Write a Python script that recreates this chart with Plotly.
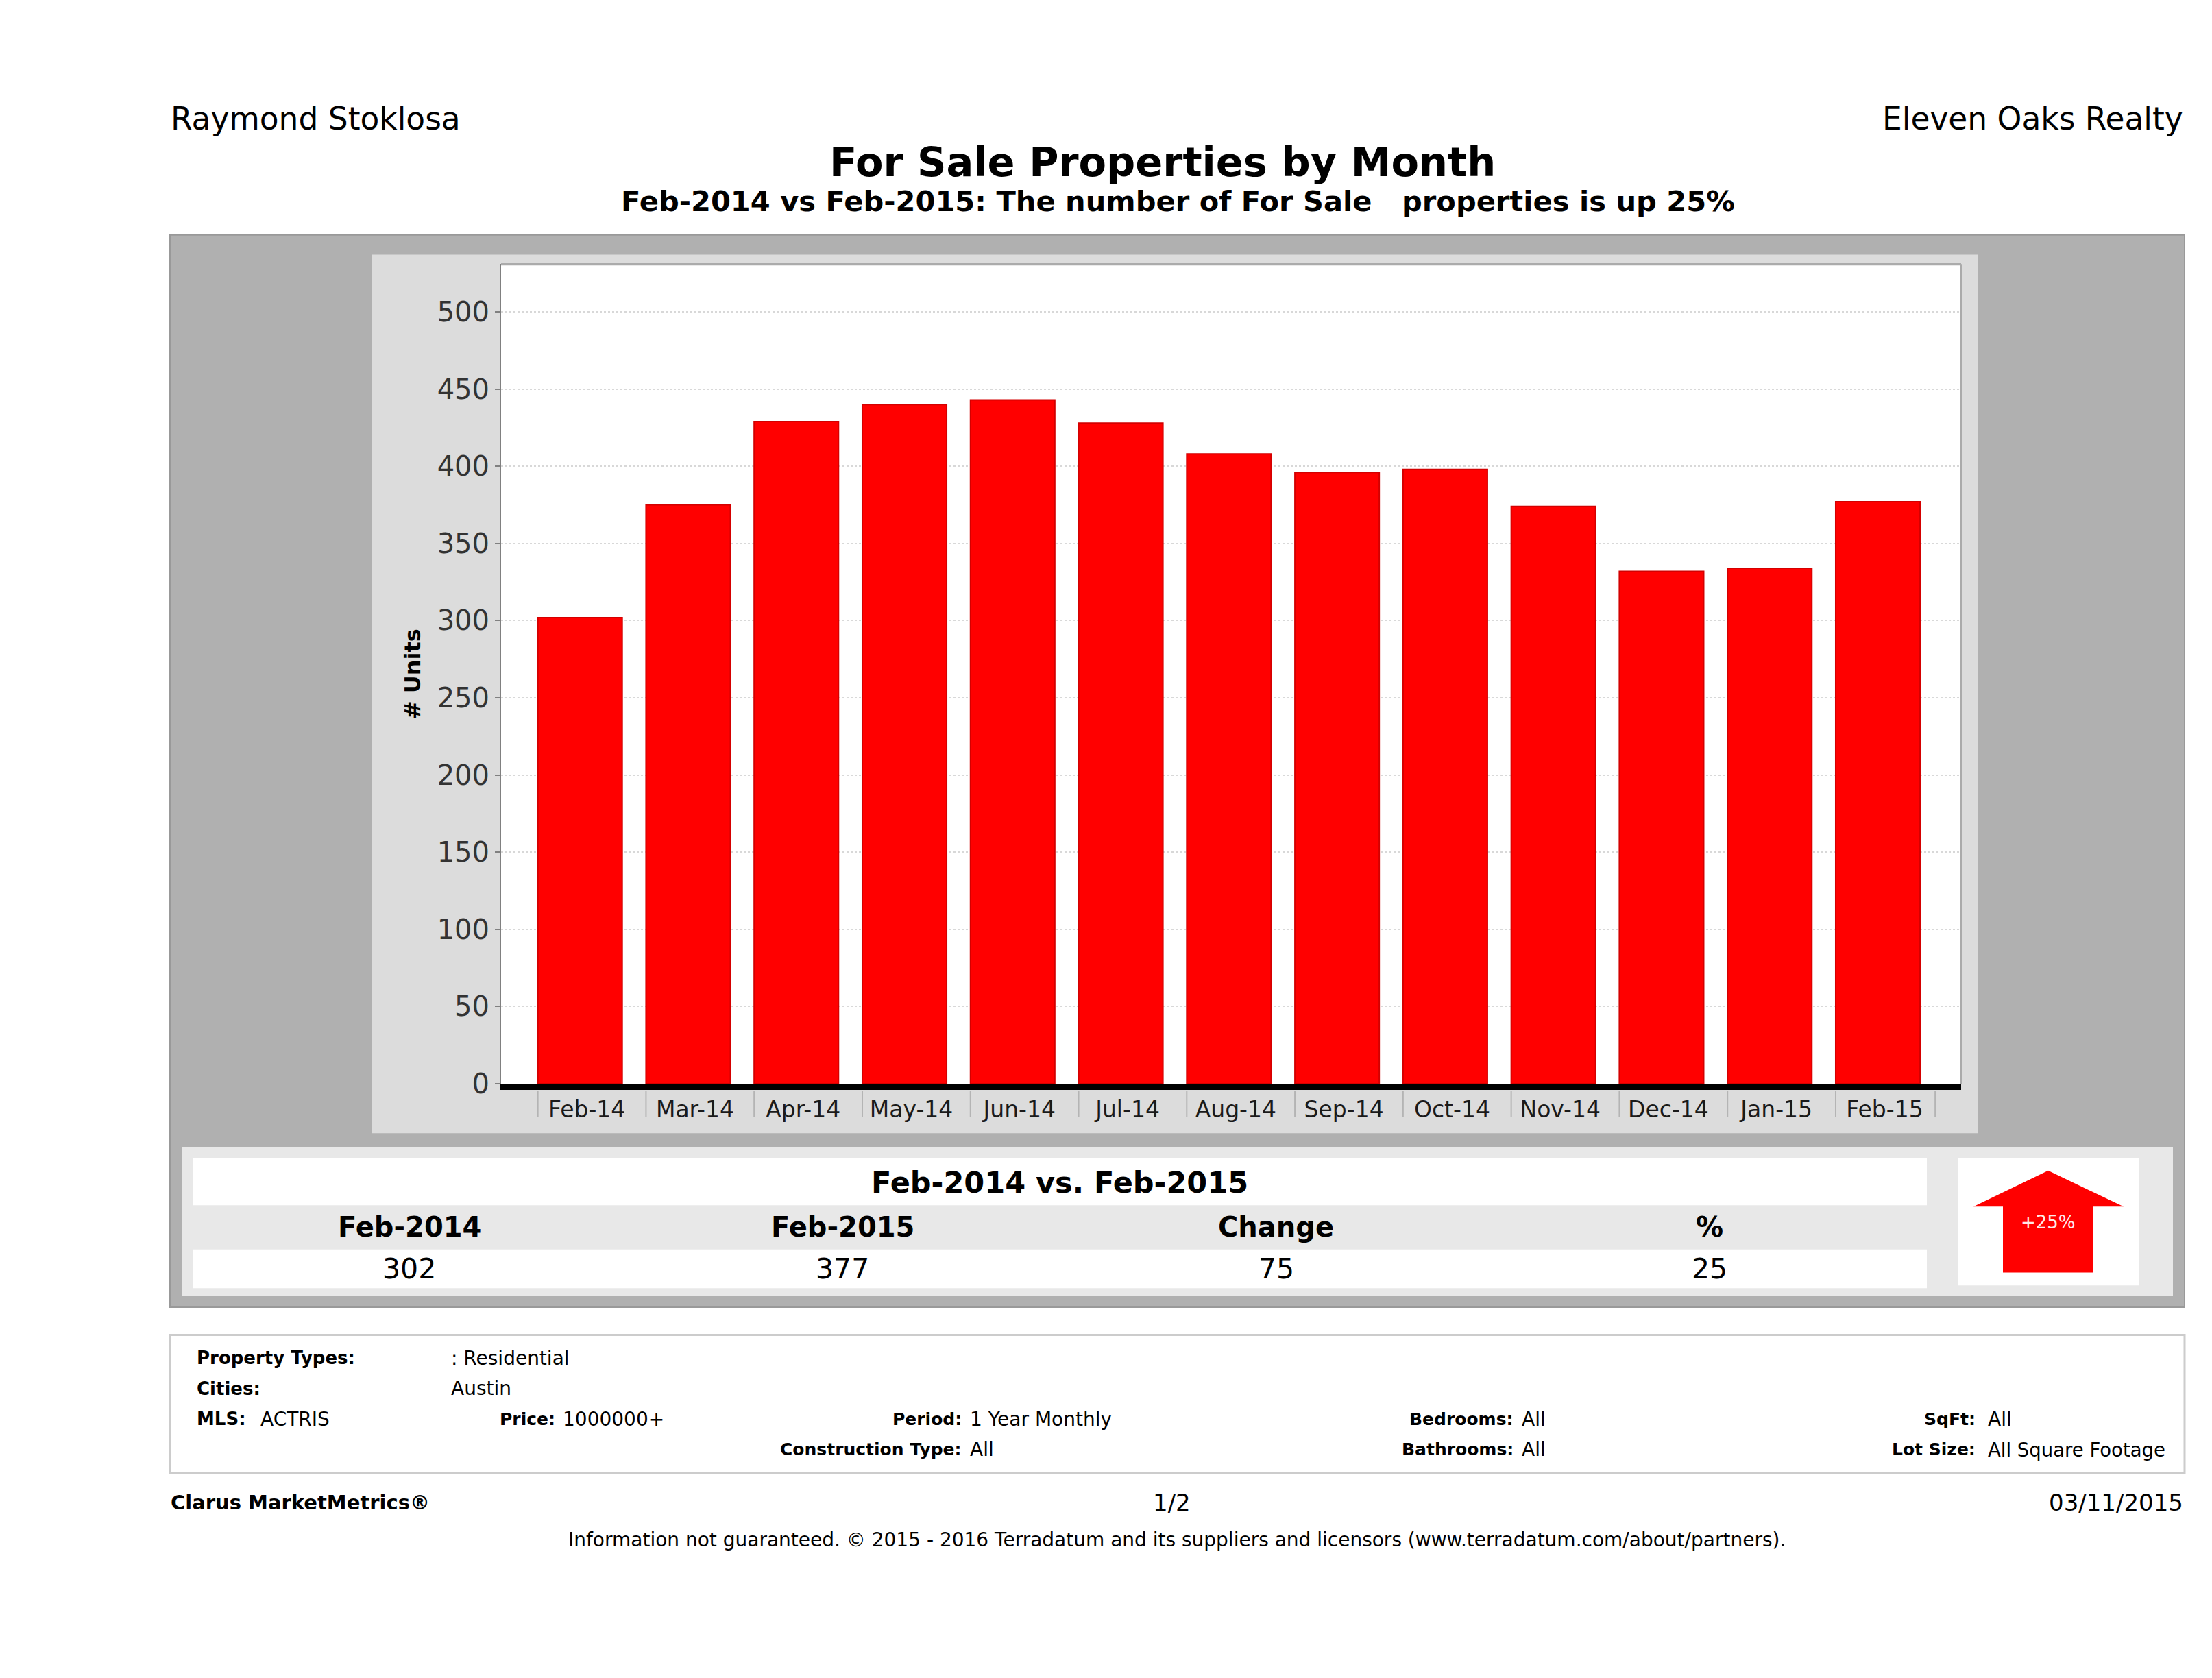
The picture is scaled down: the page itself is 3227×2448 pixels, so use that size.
import plotly.graph_objects as go

W, H = 3227, 2448
FONT = "DejaVu Sans"

months = ['Feb-14', 'Mar-14', 'Apr-14', 'May-14', 'Jun-14', 'Jul-14', 'Aug-14',
          'Sep-14', 'Oct-14', 'Nov-14', 'Dec-14', 'Jan-15', 'Feb-15']
units = [302, 375, 429, 440, 443, 428, 408, 396, 398, 374, 332, 334, 377]
y_ticks = [0, 50, 100, 150, 200, 250, 300, 350, 400, 450, 500]

compare_heads = ['Feb-2014', 'Feb-2015', 'Change', '%']
compare_vals = ['302', '377', '75', '25']


def px(x):
    return x / W


def py(y):
    return 1 - y / H


def rect(x0, y0, x1, y1, fill, line=None, lw=0):
    return dict(type='rect', xref='paper', yref='paper', x0=px(x0), x1=px(x1), y0=py(y0), y1=py(y1),
                fillcolor=fill, line=dict(color=line, width=lw), layer='below')


def text(x, y, s, size, bold=False, anchor='left', color='black'):
    if bold:
        s = '<b>' + s + '</b>'
    return dict(xref='paper', yref='paper', x=px(x), y=py(y), text=s, showarrow=False,
                xanchor=anchor, yanchor='middle', font=dict(family=FONT, size=size, color=color))


PLOT_L, PLOT_R, PLOT_T, PLOT_B = 731, 2861, 389, 1596
BAR_GAP = 0.22

fig = go.Figure(go.Bar(x=months, y=units, width=1 - BAR_GAP,
                       marker=dict(color='#FF0000', line=dict(color='#D40000', width=2))))

shapes = [
    rect(248, 346, 3187, 1925, '#B0B0B0', '#999999', 2),
    rect(543, 375, 2885, 1669, '#DCDCDC'),
    rect(PLOT_L, PLOT_T, PLOT_R, PLOT_B, 'white'),
    rect(265, 1689, 3170, 1909, '#E8E8E8'),
    rect(282, 1706, 2811, 1775, 'white'),
    rect(282, 1840, 2811, 1897, 'white'),
    rect(2856, 1705, 3121, 1893, 'white'),
    rect(248, 1966, 3187, 2170, 'white', '#CCCCCC', 3),
    # arrow badge
    dict(type='path', xref='paper', yref='paper', fillcolor='#FF0000', line=dict(width=0), layer='below',
         path='M {} {} L {} {} L {} {} L {} {} L {} {} L {} {} L {} {} Z'.format(
             px(2988), py(1724), px(3098), py(1777), px(3054), py(1777), px(3054), py(1874),
             px(2922), py(1874), px(2922), py(1777), px(2879), py(1777))),
    # top and right edge of the plot
    dict(type='line', xref='paper', yref='paper', x0=px(PLOT_L), x1=px(PLOT_R), y0=py(PLOT_T), y1=py(PLOT_T),
         line=dict(color='#ABABAB', width=4)),
    dict(type='line', xref='paper', yref='paper', x0=px(PLOT_R), x1=px(PLOT_R), y0=py(PLOT_T), y1=py(PLOT_B),
         line=dict(color='#ABABAB', width=3)),
]
# x ticks sit on the left edge of each bar, plus a closing one
for t in [i - (1 - BAR_GAP) / 2 for i in range(len(months))] + [12.53]:
    shapes.append(dict(type='line', xref='x', yref='paper', x0=t, x1=t, y0=py(1607), y1=py(1645),
                       line=dict(color='#B4B4B4', width=2)))

notes = [
    text(247, 175, 'Raymond Stoklosa', 45.5),
    text(3187, 175, 'Eleven Oaks Realty', 45.5, anchor='right'),
    text(1696, 239, 'For Sale Properties by Month', 59, True, 'center'),
    text(1718, 296, 'Feb-2014 vs Feb-2015: The number of For Sale   properties is up 25%', 41.6, True, 'center'),
    text(1546, 1741, 'Feb-2014 vs. Feb-2015', 43, True, 'center'),
    text(2988, 1800, '+25%', 26, anchor='center', color='#FFE8E8'),
    text(285, 2000, 'Property Types:', 26, True),
    text(656, 2000, ': Residential', 28),
    text(285, 2045, 'Cities:', 26, True),
    text(656, 2045, 'Austin', 28),
    text(285, 2090, 'MLS:', 26, True),
    text(378, 2090, 'ACTRIS', 28),
    text(812, 2090, 'Price:', 25, True, 'right'),
    text(819, 2090, '1000000+', 28),
    text(1405, 2090, 'Period:', 25, True, 'right'),
    text(1413, 2090, '1 Year Monthly', 28),
    text(1405, 2135, 'Construction Type:', 25, True, 'right'),
    text(1413, 2135, 'All', 28),
    text(2210, 2090, 'Bedrooms:', 25, True, 'right'),
    text(2218, 2090, 'All', 28),
    text(2210, 2135, 'Bathrooms:', 25, True, 'right'),
    text(2218, 2135, 'All', 28),
    text(2884, 2090, 'SqFt:', 25, True, 'right'),
    text(2898, 2090, 'All', 28),
    text(2884, 2135, 'Lot Size:', 25, True, 'right'),
    text(2898, 2135, 'All Square Footage', 27.5),
    text(247, 2213, 'Clarus MarketMetrics®', 29, True),
    text(1710, 2213, '1/2', 34, anchor='center'),
    text(3187, 2213, '03/11/2015', 34, anchor='right'),
    text(1717, 2268, 'Information not guaranteed. © 2015 - 2016 Terradatum and its suppliers and licensors '
                     '(www.terradatum.com/about/partners).', 28, anchor='center'),
]
for cx, head, val in zip([597, 1229, 1862, 2494], compare_heads, compare_vals):
    notes.append(text(cx, 1807, head, 40, True, 'center'))
    notes.append(text(cx, 1869, val, 41, anchor='center'))

fig.update_layout(
    width=W, height=H, margin=dict(l=0, r=0, t=0, b=0), showlegend=False,
    paper_bgcolor='white', plot_bgcolor='white', shapes=shapes, annotations=notes,
    xaxis=dict(domain=[px(PLOT_L), px(PLOT_R)], range=[-0.73, 12.77], type='category',
               showgrid=False, showline=True, linecolor='black', linewidth=9, ticks='', ticklabelshift=10,
               tickfont=dict(family=FONT, size=33, color='#1A1A1A')),
    yaxis=dict(domain=[py(PLOT_B), py(PLOT_T)], range=[0, 531], tickvals=y_ticks, ticks='outside', ticklen=7,
               tickcolor='#808080', tickwidth=2, showline=True, linecolor='#808080', linewidth=2, zeroline=False,
               gridcolor='#D8D8D8', griddash='dot', gridwidth=2,
               tickfont=dict(family=FONT, size=40, color='#333333'),
               title=dict(text='<b># Units</b>', font=dict(family=FONT, size=32, color='black'), standoff=14)),
)

fig.write_html("out.html", post_script="document.body.style.margin='0';", config={'displayModeBar': False})
